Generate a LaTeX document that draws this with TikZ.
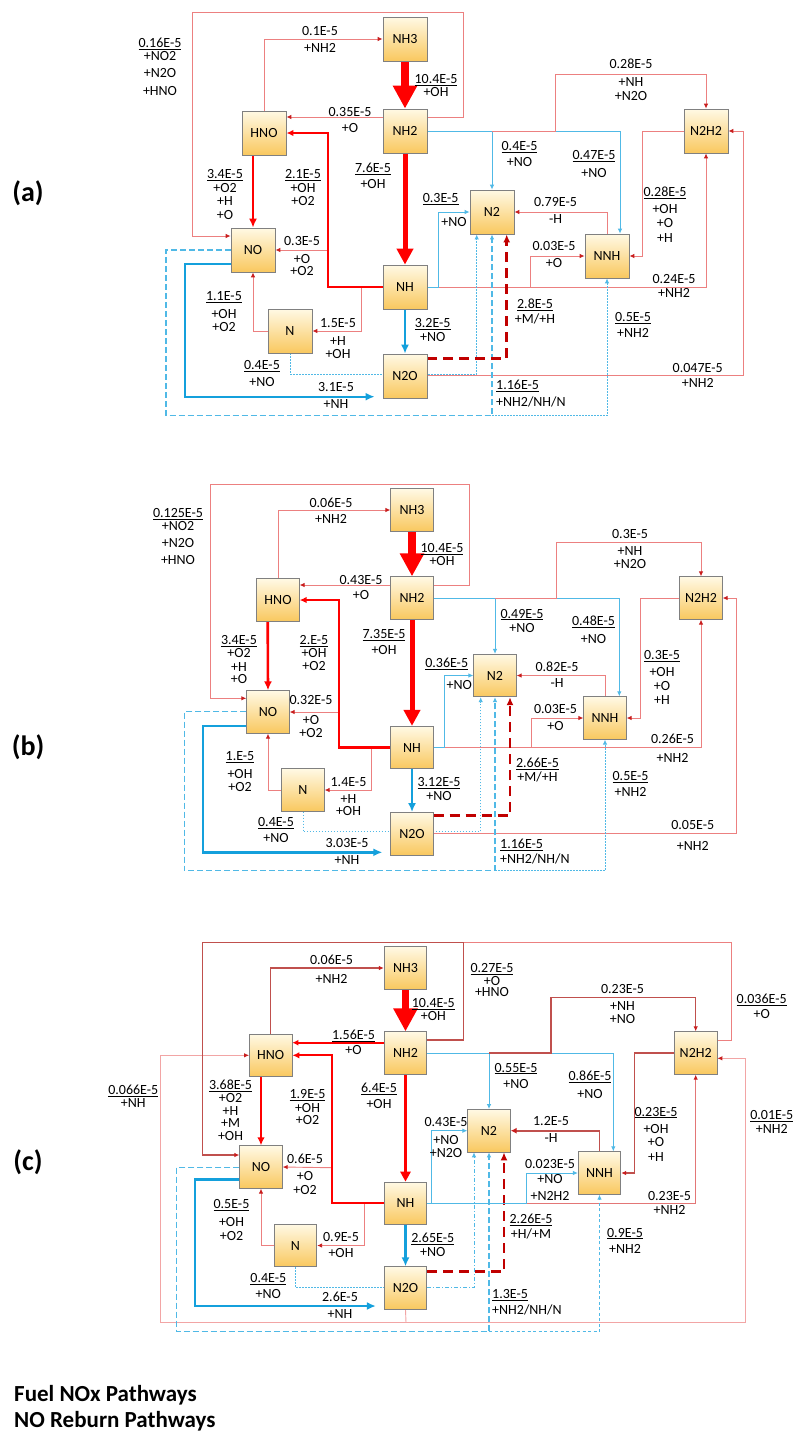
\documentclass[tikz,border=0pt]{standalone}
\usepackage{fontspec}
\setmainfont{Carlito}
\usetikzlibrary{arrows.meta}
\definecolor{lred}{RGB}{236,128,128}
\definecolor{pred}{RGB}{242,165,165}
\definecolor{dkred}{RGB}{192,80,77}
\definecolor{ared}{RGB}{200,30,30}
\definecolor{bred}{RGB}{255,0,0}
\definecolor{dashred}{RGB}{192,0,0}
\definecolor{tblue}{RGB}{80,185,230}
\definecolor{bblue}{RGB}{20,160,220}
\definecolor{boxtop}{RGB}{255,249,228}
\definecolor{boxbot}{RGB}{249,200,95}
\definecolor{boxline}{RGB}{128,128,128}
\pgfdeclarelayer{bg}
\pgfsetlayers{bg,main}
\newcommand\myul[1]{\underline{#1}}
\begin{document}
\begin{tikzpicture}[x=1pt,y=-1pt,
 box/.style={draw=boxline, line width=0.8pt, top color=boxtop, bottom color=boxbot, minimum width=44pt, minimum height=44pt, inner sep=0pt, font=\fontsize{14}{14}\selectfont},
 boxb/.style={box, minimum width=42.5pt, minimum height=42.5pt},
 lbl/.style={inner sep=0pt, align=center, font=\fontsize{14}{14}\selectfont},
 trd/.style={draw=lred, line width=0.9pt, -{Latex[length=5pt,width=4.5pt,color=ared]}},
 tdk/.style={draw=dkred, line width=1.1pt, -{Latex[length=5pt,width=4.5pt,color=ared]}},
 mred/.style={draw=bred, line width=2.2pt, -{Latex[length=7pt,width=6.5pt]}},
 tblu/.style={draw=tblue, line width=0.9pt, -{Latex[length=5pt,width=4.5pt]}},
 bblu/.style={draw=bblue, line width=2.4pt, -{Latex[length=9pt,width=8pt]}},
 dblu/.style={tblu, line width=1.2pt, dash pattern=on 6pt off 3pt},
 oblu/.style={tblu, dash pattern=on 1.5pt off 1.5pt},
 rdash/.style={draw=dashred, line width=2.5pt, dash pattern=on 10pt off 6pt, -{Latex[length=8pt,width=7pt]}},
 bigarr/.style={draw=bred, line width=7.5pt, -{Triangle[length=23pt,width=23pt]}},
 medarr/.style={draw=bred, line width=5pt, -{Triangle[length=16pt,width=16pt]}},
 plab/.style={inner sep=0pt, font=\bfseries\fontsize{28}{28}\selectfont},
 leg/.style={inner sep=0pt, anchor=base west, font=\bfseries\fontsize{23}{23}\selectfont}
]
\useasboundingbox (0,0) rectangle (794,1435);
\begin{pgfonlayer}{bg}
\fill[white] (0,0) rectangle (794,1435);
\end{pgfonlayer}

% ================= Panel (a) =================
\node[box] (aNH3) at (405,39) {NH3};
\node[box] (aNH2) at (405,131) {NH2};
\node[box] (aHNO) at (264,133) {HNO};
\node[box] (aNO) at (253,250) {NO};
\node[box] (aNH) at (405,287) {NH};
\node[box] (aN) at (290,331) {N};
\node[box] (aN2O) at (405,376) {N2O};
\node[box] (aN2) at (492,212) {N2};
\node[box] (aNNH) at (607,256) {NNH};
\node[box] (aN2H2) at (706,131) {N2H2};

\begin{pgfonlayer}{bg}
\draw[trd] (aNH2.east |- 0,117) -| (463,12.7) -| (192.7,236) -- (aNO.west |- 0,236);
\draw[trd] (aHNO.north) |- (aNH3.west);
\draw[trd] (aNH2.west |- 0,117) -- (aHNO.east |- 0,117);
\draw[trd] (328,250) -- (aNO.east);
\draw[trd] (361.7,287) |- (aN.east);
\draw[trd] (aN.west) -| (aNO.south);
\draw[mred] (aNH.west) -| (328,133) -- (aHNO.east);
\draw[mred, line width=2.6pt, -{Latex[length=9pt,width=8pt]}] (253,0 |- aHNO.south) -- (aNO.north);
\draw[medarr] (aNH2.south) -- (aNH.north);
\draw[bigarr] (aNH3.south) -- (aNH2.north);
\draw[trd] (aN2O.east |- 0,375) -| (743.3,131) -- (aN2H2.east);
\draw[trd] (aNH.east) -| (aN2H2.south);
\draw[trd] (530,287) |- (aNNH.west);
\draw[trd] (aNNH.north) |- (aN2.east);
\draw[trd] (aN2H2.west) -| (642.7,256) -- (aNNH.east);
\draw[bblu] (aNH.south) -- (aN2O.north);
\draw[bblu, shorten >=8pt] (aNO.west |- 0,264) -| (185,396.7) -- (aN2O.west |- 0,396.7);
\draw[dblu] (aNO.west) -| (166,415.7) -| (aN2.south);
\draw[oblu] (492,415.7) -| (aNNH.south);
\draw[oblu] (aN.south) |- (476.7,374.3) -- (476.7,0 |- aN2.south);
\draw[rdash] (aN2O.east |- 0,358.3) -| (506.7,0 |- aN2.south);
\draw[tblu] (aNH.east) -| (438.3,212) -- (aN2.west);
\draw[tblu] (aNH2.east) -| (620,0 |- aNNH.north);
\draw[tblu] (492,131) -- (aN2.north);
\draw[trd] (492,131) -| (555,74) -| (aN2H2.north);
\end{pgfonlayer}

\node[plab] (pa) at (28,193) {(a)};
\node[lbl] (aL1) at (160,67) {\myul{0.16E-5}\\[-1pt]+NO2\\[3pt]+N2O\\[4pt]+HNO};
\node[lbl] (aL2) at (320,39.5) {0.1E-5\\[3pt]+NH2};
\node[lbl] (aL3) at (436,85.5) {\myul{10.4E-5}\\[-1pt]+OH};
\node[lbl] (aL4) at (350,119.7) {0.35E-5\\[2pt]+O};
\node[lbl] (aL5) at (225,194.3) {\myul{3.4E-5}\\[-0.5pt]+O2\\[-0.5pt]+H\\[-0.5pt]+O};
\node[lbl] (aL6) at (303,187.7) {\myul{2.1E-5}\\[-0.5pt]+OH\\[-0.5pt]+O2};
\node[lbl] (aL7) at (373,176) {\myul{7.6E-5}\\[2pt]+OH};
\node[lbl] (aL8) at (302,256) {0.3E-5\\[4pt]+O\\[-1.5pt]+O2};
\node[lbl] (aL9) at (224,311.7) {\myul{1.1E-5}\\[4pt]+OH\\[-1.5pt]+O2};
\node[lbl] (aL10) at (338,338.3) {1.5E-5\\[4pt]+H\\[-1pt]+OH};
\node[lbl] (aL11) at (262,373.3) {\myul{0.4E-5}\\[3pt]+NO};
\node[lbl] (aL12) at (432.7,329.7) {\myul{3.2E-5}\\+NO};
\node[lbl] (aL13) at (336,395.7) {3.1E-5\\[3pt]+NH};
\node[lbl] (aL14) at (440.7,199.3) {\myul{0.3E-5}};
\node[lbl] (aL15) at (454,221.7) {+NO};
\node[lbl] (aL16) at (555.5,210.7) {0.79E-5\\[3pt]-H};
\node[lbl] (aL17) at (554,255) {0.03E-5\\[3pt]+O};
\node[lbl] (aL18) at (665,214.7) {\myul{0.28E-5}\\[3pt]+OH\\+O\\[1pt]+H};
\node[lbl] (aL19) at (674,286.3) {0.24E-5\\+NH2};
\node[lbl] (aL20) at (519.5,154.5) {\myul{0.4E-5}\\[2pt]+NO};
\node[lbl] (aL21) at (594,164.2) {\myul{0.47E-5}\\[4pt]+NO};
\node[lbl] (aL22) at (631,79.8) {0.28E-5\\[4pt]+NH\\+N2O};
\node[lbl] (aL23) at (535,311.5) {\myul{2.8E-5}\\[1pt]+M/+H};
\node[lbl] (aL24) at (633,325.2) {\myul{0.5E-5}\\[2pt]+NH2};
\node[lbl] (aL25) at (697.7,375.8) {0.047E-5\\[1pt]+NH2};
\node[lbl, align=left, anchor=west] (aL26) at (496,393.3) {\myul{1.16E-5}\\[3pt]+NH2/NH/N};

% ================= Panel (b) =================
\node[boxb] (bNH3) at (412,510) {NH3};
\node[boxb] (bNH2) at (412,598) {NH2};
\node[boxb] (bHNO) at (278,600) {HNO};
\node[boxb] (bNO) at (268,712) {NO};
\node[boxb] (bNH) at (412,747.5) {NH};
\node[boxb] (bN) at (303,790) {N};
\node[boxb] (bN2O) at (412,833.7) {N2O};
\node[boxb] (bN2) at (495,675.5) {N2};
\node[boxb] (bNNH) at (605,718) {NNH};
\node[boxb] (bN2H2) at (701,598) {N2H2};

\begin{pgfonlayer}{bg}
\draw[trd] (bNH2.east |- 0,585) -| (469,484.3) -| (210,698.3) -- (bNO.west |- 0,698.3);
\draw[trd] (bHNO.north) |- (bNH3.west);
\draw[trd] (bNH2.west |- 0,585) -- (bHNO.east |- 0,585);
\draw[trd] (339.3,712) -- (bNO.east);
\draw[trd] (371.7,747.5) |- (bN.east);
\draw[trd] (bN.west) -| (bNO.south);
\draw[mred] (bNH.west) -| (339.3,600) -- (bHNO.east);
\draw[mred, line width=2.6pt, -{Latex[length=9pt,width=8pt]}] (267.7,0 |- bHNO.south) -- (bNO.north);
\draw[medarr] (bNH2.south) -- (bNH.north);
\draw[bigarr] (bNH3.south) -- (bNH2.north);
\draw[trd] (bN2O.east |- 0,833.3) -| (736,598) -- (bN2H2.east);
\draw[trd] (bNH.east) -| (bN2H2.south);
\draw[trd] (531.7,747.5) |- (bNNH.west);
\draw[trd] (bNNH.north) |- (bN2.east);
\draw[trd] (bN2H2.west) -| (640,718) -- (bNNH.east);
\draw[bblu] (bNH.south) -- (bN2O.north);
\draw[bblu, shorten >=8pt] (bNO.west |- 0,725.7) -| (202.7,852.3) -- (bN2O.west |- 0,852.3);
\draw[dblu] (bNO.west |- 0,711.7) -| (184.3,870.7) -| (bN2.south);
\draw[oblu] (495,870.7) -| (bNNH.south);
\draw[oblu] (bN.south) |- (480.7,831.7) -- (480.7,0 |- bN2.south);
\draw[rdash] (bN2O.east |- 0,815.7) -| (510,0 |- bN2.south);
\draw[tblu] (bNH.east) -| (444.3,675.5) -- (bN2.west);
\draw[tblu] (bNH2.east) -| (619.3,0 |- bNNH.north);
\draw[tblu] (495,598) -- (bN2.north);
\draw[trd] (495,598) -| (556.7,542.7) -| (bN2H2.north);
\end{pgfonlayer}

\node[plab] (pb) at (28,747) {(b)};
\node[lbl] (bL1) at (178,536.3) {\myul{0.125E-5}\\[-1pt]+NO2\\[3pt]+N2O\\[3pt]+HNO};
\node[lbl] (bL2) at (331,510.8) {0.06E-5\\[2pt]+NH2};
\node[lbl] (bL3) at (442,554.7) {\myul{10.4E-5}\\[-1pt]+OH};
\node[lbl] (bL4) at (361,587.7) {0.43E-5\\[1pt]+O};
\node[lbl] (bL5) at (239,659.2) {\myul{3.4E-5}\\[-1pt]+O2\\+H\\[-2pt]+O};
\node[lbl] (bL6) at (314,652.8) {\myul{2.E-5}\\[-1pt]+OH\\[-1pt]+O2};
\node[lbl] (bL7) at (384,642.2) {\myul{7.35E-5}\\[2pt]+OH};
\node[lbl] (bL8) at (311,716.3) {0.32E-5\\[6pt]+O\\[-1pt]+O2};
\node[lbl] (bL9) at (240,771.3) {\myul{1.E-5}\\[4pt]+OH\\[-1pt]+O2};
\node[lbl] (bL10) at (348.5,796.5) {1.4E-5\\[3pt]+H\\[-1.5pt]+OH};
\node[lbl] (bL11) at (276,830.2) {\myul{0.4E-5}\\[2pt]+NO};
\node[lbl] (bL12) at (347,851.7) {3.03E-5\\[3pt]+NH};
\node[lbl] (bL13) at (439,788.8) {\myul{3.12E-5}\\+NO};
\node[lbl] (bL14) at (446.7,664) {\myul{0.36E-5}};
\node[lbl] (bL15) at (459.3,685) {+NO};
\node[lbl] (bL16) at (557,674.5) {0.82E-5\\[2pt]-H};
\node[lbl] (bL17) at (555.5,717) {0.03E-5\\[3pt]+O};
\node[lbl] (bL18) at (662,677.8) {\myul{0.3E-5}\\[3pt]+OH\\+O\\+H};
\node[lbl] (bL19) at (672.5,748) {0.26E-5\\[5pt]+NH2};
\node[lbl] (bL20) at (522,620.5) {\myul{0.49E-5}\\+NO};
\node[lbl] (bL21) at (593.5,630) {\myul{0.48E-5}\\[4pt]+NO};
\node[lbl] (bL22) at (630,549.2) {0.3E-5\\[3pt]+NH\\[-1pt]+N2O};
\node[lbl] (bL23) at (537.5,770.5) {\myul{2.66E-5}\\+M/+H};
\node[lbl] (bL24) at (630.5,783.8) {\myul{0.5E-5}\\[2pt]+NH2};
\node[lbl] (bL25) at (692.7,835.3) {0.05E-5\\[7pt]+NH2};
\node[lbl, align=left, anchor=west] (bL26) at (500,851.8) {\myul{1.16E-5}\\[1pt]+NH2/NH/N};

% ================= Panel (c) =================
\node[boxb] (cNH3) at (405.5,968) {NH3};
\node[boxb] (cNH2) at (405.5,1053) {NH2};
\node[boxb] (cHNO) at (270.7,1055.3) {HNO};
\node[boxb] (cNO) at (261,1167) {NO};
\node[boxb] (cNH) at (405.5,1203.3) {NH};
\node[boxb] (cN) at (295.5,1245.5) {N};
\node[boxb] (cN2O) at (405.5,1288) {N2O};
\node[boxb] (cN2) at (489,1130.7) {N2};
\node[boxb] (cNNH) at (599.5,1173) {NNH};
\node[boxb] (cN2H2) at (695.7,1053) {N2H2};

\begin{pgfonlayer}{bg}
\draw[trd, draw=pred, -] (cN2O.south) -- (406,1322.7);
\draw[trd, draw=pred] (406,1322.7) -| (745,1058.3) -- (cN2H2.east |- 0,1058.3);
\draw[trd, draw=pred] (406,1322.7) -| (160.7,1055.3) -- (cHNO.west);
\draw[trd, -] (cN2H2.east |- 0,1040) -| (731,942.3) -- (463.3,942.3);
\draw[tdk] (cNH2.east |- 0,1040) -| (463.3,942.3) -| (202.7,1155) -- (cNO.west |- 0,1155);
\draw[tdk] (cHNO.north) |- (cNH3.west);
\draw[mred, line width=1.6pt, -{Latex[length=6pt,width=6pt]}] (cNH2.west |- 0,1042.7) -- (cHNO.east |- 0,1042.7);
\draw[trd] (331.7,1167.7) -- (cNO.east);
\draw[trd] (364.3,1203.3) |- (cN.east);
\draw[trd] (cN.west) -| (cNO.south);
\draw[mred] (cNH.west) -| (331.7,1055.3) -- (cHNO.east);
\draw[mred, line width=2.4pt, -{Latex[length=8pt,width=7.5pt]}] (261,0 |- cHNO.south) -- (cNO.north);
\draw[draw=bred, line width=3pt, -{Triangle[length=10pt,width=10pt]}] (cNH2.south) -- (cNH.north);
\draw[bigarr] (cNH3.south) -- (cNH2.north);
\draw[tdk, draw=lred!80!dkred] (cNH.east) -| (cN2H2.south);
\draw[tdk, line width=1.8pt, -{Latex[length=6pt,width=6pt,color=ared]}] (cNNH.north) |- (cN2.east);
\draw[tdk] (cN2H2.west) -| (634.3,1173) -- (cNNH.east);
\draw[bblu] (cNH.south) -- (cN2O.north);
\draw[bblu, shorten >=8pt] (cNO.west |- 0,1179.3) -| (195,1306) -- (cN2O.west |- 0,1306);
\draw[dblu] (cNO.west |- 0,1167.3) -| (176.7,1331.7) -| (cN2.south);
\draw[tblu, dash pattern=on 3pt off 2.5pt] (489,1331.7) -| (cNNH.south);
\draw[oblu, -] (cN.south) |- (cN2O.west |- 0,1287.3);
\draw[tblu, dash pattern=on 4pt off 2pt on 1pt off 2pt] (cN2O.east |- 0,1287.7) -| (474,0 |- cN2.south);
\draw[rdash] (cN2O.east |- 0,1271.7) -| (504,0 |- cN2.south);
\draw[tblu] (cNH.east) -| (431.7,1130.7) -- (cN2.west);
\draw[tblu] (cNH.east) -| (526,1173) -- (cNNH.west);
\draw[tblu] (cNH2.east) -| (613.3,0 |- cNNH.north);
\draw[tblu] (489,1053) -- (cN2.north);
\draw[tdk] (489,1053) -| (551,997.7) -| (cN2H2.north);
\end{pgfonlayer}

\node[plab] (pc) at (28,1162) {(c)};
\node[lbl] (cL1) at (492,980) {\myul{0.27E-5}\\[-1pt]+O\\[-2.5pt]+HNO};
\node[lbl] (cL2) at (761.7,1006.7) {\myul{0.036E-5}\\[1pt]+O};
\node[lbl] (cL3) at (331.5,968.8) {0.06E-5\\[5pt]+NH2};
\node[lbl] (cL4) at (433.3,1009.3) {\myul{10.4E-5}\\[-1pt]+OH};
\node[lbl] (cL5) at (353.5,1042.5) {\myul{1.56E-5}\\[1pt]+O};
\node[lbl] (cL6) at (230.5,1110.5) {\myul{3.68E-5}\\[-1pt]+O2\\[-1pt]+H\\[-1.5pt]+M\\[-1pt]+OH};
\node[lbl] (cL7) at (307.5,1107.3) {\myul{1.9E-5}\\[-0.5pt]+OH\\[-1.5pt]+O2};
\node[lbl] (cL8) at (379,1096.3) {\myul{6.4E-5}\\[2pt]+OH};
\node[lbl] (cL9) at (133.3,1096.7) {\myul{0.066E-5}\\[-1pt]+NH};
\node[lbl] (cL10) at (305,1174.7) {0.6E-5\\[3pt]+O\\+O2};
\node[lbl] (cL11) at (231.5,1220) {\myul{0.5E-5}\\[4pt]+OH\\[-0.5pt]+O2};
\node[lbl] (cL12) at (341,1245.3) {0.9E-5\\[2pt]+OH};
\node[lbl] (cL13) at (268.3,1285.8) {\myul{0.4E-5}\\[2pt]+NO};
\node[lbl] (cL14) at (340,1305.7) {2.6E-5\\[3pt]+NH};
\node[lbl] (cL15) at (432.7,1244.5) {\myul{2.65E-5}\\+NO};
\node[lbl] (cL16) at (446,1137.5) {0.43E-5\\[4pt]+NO\\[-1pt]+N2O};
\node[lbl] (cL17) at (550,1180.2) {0.023E-5\\[1pt]+NO\\[3pt]+N2H2};
\node[lbl] (cL18) at (551,1129.7) {1.2E-5\\[3pt]-H};
\node[lbl] (cL19) at (656,1134.2) {\myul{0.23E-5}\\[3pt]+OH\\[-0.5pt]+O\\[1pt]+H};
\node[lbl] (cL20) at (669.5,1202.8) {0.23E-5\\+NH2};
\node[lbl] (cL21) at (622.5,1004.2) {0.23E-5\\[3pt]+NH\\[-1pt]+NO};
\node[lbl] (cL22) at (516,1075.5) {\myul{0.55E-5}\\[2pt]+NO};
\node[lbl] (cL23) at (590,1085) {\myul{0.86E-5}\\[4pt]+NO};
\node[lbl] (cL24) at (531,1226.7) {\myul{2.26E-5}\\[1pt]+H/+M};
\node[lbl] (cL25) at (625,1240.5) {\myul{0.9E-5}\\[2pt]+NH2};
\node[lbl] (cL26) at (771.7,1122.2) {\myul{0.01E-5}\\+NH2};
\node[lbl, align=left, anchor=west] (cL27) at (492,1302.2) {\myul{1.3E-5}\\[2pt]+NH2/NH/N};

% ================= Legend =================
\node[leg] (leg1) at (14,1401.7) {Fuel NOx Pathways};
\node[leg] (leg2) at (14,1427.3) {NO Reburn Pathways};
\end{tikzpicture}
\end{document}
